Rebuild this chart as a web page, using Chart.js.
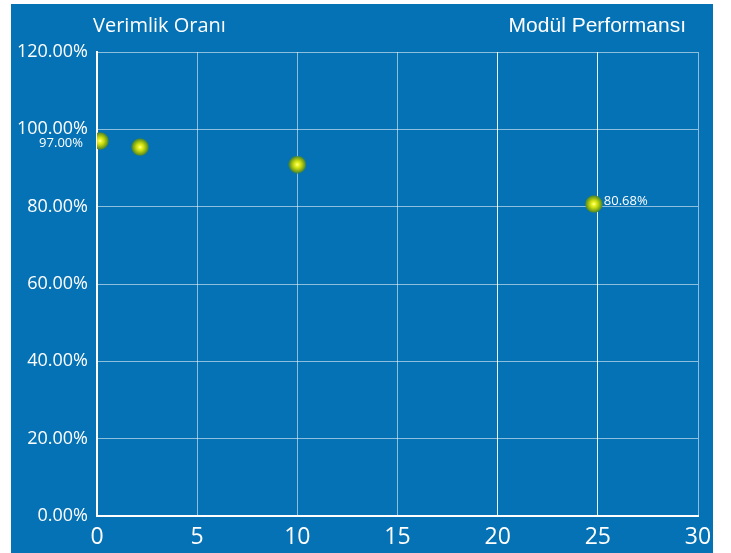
<!DOCTYPE html>
<html>
<head>
<meta charset="utf-8">
<script src="https://cdn.jsdelivr.net/npm/chart.js@4/dist/chart.umd.min.js"></script>
<style>
  html, body { margin: 0; padding: 0; background: #fff; }
  #wrap { width: 731px; height: 553px; }
</style>
</head>
<body>
<div id="wrap"><canvas id="perfChart" width="731" height="553"></canvas></div>
<script>
// veriler
const yillar = [0.15, 2.15, 10, 24.8];
const verim = [97.0, 95.4, 90.9, 80.68];
const etiketliNoktalar = [0, 3];
const xTicks = [0, 5, 10, 15, 20, 25, 30];
const yTicks = [0, 20, 40, 60, 80, 100, 120];
const solBaslik = "Verimlik Oranı";
const sagBaslik = "Modül Performansı";

const MAVI = "#0472b4";

// yesil-sari parlak nokta
function noktaResmi() {
    const c = document.createElement("canvas");
    c.width = 18; c.height = 18;
    const ctx = c.getContext("2d");
    const g = ctx.createRadialGradient(9, 9, 0, 9, 9, 9);
    g.addColorStop(0, "#ffffe0");
    g.addColorStop(0.15, "#f6fa30");
    g.addColorStop(0.45, "#c4d810");
    g.addColorStop(0.75, "#7ea61a");
    g.addColorStop(0.92, "#4f8a2a");
    g.addColorStop(1, "rgba(60,120,80,0.2)");
    ctx.fillStyle = g;
    ctx.beginPath();
    ctx.arc(9, 9, 9, 0, Math.PI * 2);
    ctx.fill();
    return c;
}

const arkaPlan = {
    id: "arkaPlan",
    beforeDraw(chart) {
        const ctx = chart.ctx;
        ctx.save();
        ctx.fillStyle = MAVI;
        ctx.fillRect(11, 4, 702, 549);
        ctx.restore();
    }
};

const yazilar = {
    id: "yazilar",
    afterDatasetsDraw(chart) {
        const ctx = chart.ctx;
        ctx.save();
        ctx.fillStyle = "#ffffff";
        ctx.textBaseline = "middle";
        ctx.font = "20px 'Open Sans', sans-serif";
        ctx.textAlign = "left";
        ctx.fillText(solBaslik, 93, 26);
        ctx.font = "21px 'Liberation Sans', Arial, sans-serif";
        ctx.textAlign = "right";
        ctx.fillText(sagBaslik, 686, 26);

        const meta = chart.getDatasetMeta(0);
        ctx.font = "13px 'Open Sans', sans-serif";
        etiketliNoktalar.forEach(i => {
            const p = meta.data[i];
            const txt = verim[i].toFixed(2) + "%";
            if (i === 0) {
                ctx.textAlign = "right";
                ctx.fillText(txt, p.x - 17, p.y + 2);
            } else {
                ctx.textAlign = "left";
                ctx.fillText(txt, p.x + 10, p.y - 3);
            }
        });
        ctx.restore();
    }
};

const ctx = document.getElementById("perfChart").getContext("2d");
new Chart(ctx, {
    type: "scatter",
    data: {
        datasets: [{
            data: yillar.map((x, i) => ({ x: x, y: verim[i] })),
            pointStyle: noktaResmi(),
            pointRadius: 9,
            pointHoverRadius: 9
        }]
    },
    options: {
        responsive: false,
        animation: false,
        layout: { padding: { left: 0, right: 33, top: 52, bottom: 0 } },
        plugins: {
            legend: { display: false },
            tooltip: { enabled: false }
        },
        scales: {
            x: {
                type: "linear",
                min: 0, max: 30,
                afterBuildTicks: s => { s.ticks = xTicks.map(v => ({ value: v })); },
                afterFit: s => { s.height = 37; },
                border: { color: "#ffffff", width: 2 },
                grid: {
                    drawTicks: false,
                    lineWidth: 1,
                    color: c => (c.tick && (c.tick.value === 20 || c.tick.value === 25)) ? "rgba(255,255,255,0.9)" : "rgba(255,255,255,0.55)"
                },
                ticks: {
                    color: "#ffffff",
                    padding: 8,
                    font: { family: "'Open Sans', sans-serif", size: 23 }
                }
            },
            y: {
                min: 0, max: 120,
                afterBuildTicks: s => { s.ticks = yTicks.map(v => ({ value: v })); },
                afterFit: s => { s.width = 97; },
                border: { color: "#ffffff", width: 2 },
                grid: {
                    drawTicks: false,
                    lineWidth: 1,
                    color: "rgba(255,255,255,0.55)"
                },
                ticks: {
                    color: "#ffffff",
                    padding: 9,
                    font: { family: "'Open Sans', sans-serif", size: 18 },
                    callback: v => v.toFixed(2) + "%"
                }
            }
        }
    },
    plugins: [arkaPlan, yazilar]
});
</script>
</body>
</html>
